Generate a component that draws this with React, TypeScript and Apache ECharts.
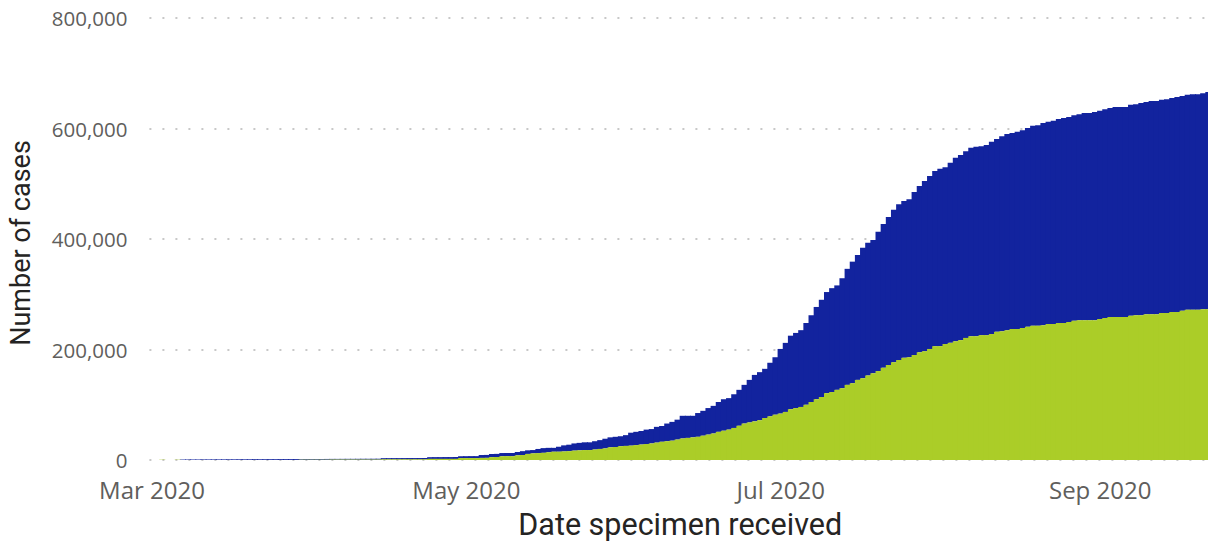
import React, { useEffect, useRef } from "react";
import * as echarts from "echarts";

// Daily dates: 1 Mar 2020 .. 22 Sep 2020
const startDay = "2020-03-01";
const dayCount = 206;
const monthNames = ["Jan", "Feb", "Mar", "Apr", "May", "Jun", "Jul", "Aug", "Sep", "Oct", "Nov", "Dec"];
const labelledMonths = [2, 4, 6, 8]; // Mar, May, Jul, Sep
const yTicks = [0, 200000, 400000, 600000, 800000];

// cumulative total cases (stack top)
const totalCases = [
  0, 0, 500, 0, 0, 500,
  800, 850, 900, 900, 950, 1000, 1000, 1050, 1100, 1100, 1150, 1200, 1200, 1250, 1300, 1300, 1350, 1400, 1400, 1450, 1500, 1500, 1550,
  1700, 1750, 1800, 1800, 1850, 1900,
  2000, 2000, 2050, 2100, 2100, 2150, 2200, 2200, 2250, 2300,
  3300, 3350, 3400, 3400, 3450, 3500, 3500, 3550, 3600,
  5100, 5200, 5200, 5300, 5300, 5400,
  6800, 6900, 7000, 7000,
  9000, 9200,
  10900, 11100,
  12600, 12700, 12800,
  14500, 16000, 17500, 18000, 20000, 21500, 22000, 22000, 24000, 26500,
  27700, 30000, 31000, 32000, 32000, 34000, 36000, 38500, 41000, 42000,
  43000, 45000, 49400, 51000, 52500, 55000, 56000, 60000, 61500, 66000,
  69000, 73000, 80000, 80000, 80000, 85000, 89000, 94000, 98000, 105000,
  110000, 112000, 119000, 127000, 136000, 145000, 154000, 159000, 165000, 176000,
  186000, 201000,
  212000, 225000, 230000, 235000, 248000, 262000, 277000, 290000, 304000, 311000, 316000, 329000, 346000, 359000,
  371000, 384000, 393000, 398000, 413000, 427000, 440000, 453000, 463000, 469000,
  472000, 485000, 496000, 505000, 514000, 523000, 527000, 530000, 538000, 547000,
  552000, 559000, 565000, 567000, 568000, 570000, 576000, 581000, 586000, 590000,
  592000, 594000, 597000, 601000, 605000, 606000, 610000, 612000, 614000, 617000,
  619000, 621000, 624000, 626000, 628000, 628000, 630000, 632000, 635000, 637000,
  639000, 639000, 639000, 643000, 644000, 646000, 648000, 650000, 650000, 652000,
  653000, 655000, 657000, 659000, 661000, 662000, 662000, 664000, 666000,
];

// cumulative green (lower) segment
const greenCases = [
  0, 0, 500, 0, 0, 500,
  0, 0, 0, 0, 0, 0, 0, 0, 0, 0, 0, 0, 0, 0, 0, 0, 0, 0, 0, 0, 0, 0, 0,
  500, 500, 500, 500, 500, 500,
  700, 700, 700, 700, 700, 700, 700, 700, 700, 700,
  1100, 1100, 1100, 1100, 1100, 1100, 1100, 1100, 1100,
  2000, 2000, 2000, 2000, 2000, 2000,
  3500, 3500, 3500, 3500,
  3800, 3900,
  5200, 5400,
  6800, 7000, 7000,
  8500, 9000, 11000, 12000, 12500, 13000, 14000, 15000, 15000, 15500,
  16000, 17000, 17500, 18000, 18000, 19000, 20000, 21000, 23000, 23500,
  25000, 25500, 26000, 27000, 28000, 29000, 30000, 31500, 33000, 34000,
  35000, 37000, 39000, 40000, 41000, 42000, 44000, 46000, 48000, 51000,
  53000, 55000, 58000, 62000, 66000, 68000, 70000, 72000, 76000, 79000,
  82000, 84000,
  87000, 92000, 94000, 96000, 100000, 105000, 110000, 114000, 121000, 123000, 127000, 130000, 136000, 139000,
  145000, 148000, 153000, 157000, 161000, 167000, 172000, 177000, 181000, 185000,
  186000, 190000, 195000, 197000, 201000, 206000, 206000, 210000, 212000, 215000,
  217000, 221000, 224000, 224000, 226000, 226000, 228000, 232000, 233000, 235000,
  237000, 237000, 239000, 241000, 243000, 243000, 244000, 246000, 246000, 248000,
  248000, 250000, 252000, 253000, 253000, 253000, 253000, 255000, 257000, 259000,
  259000, 259000, 259000, 261000, 262000, 262000, 264000, 264000, 264000, 266000,
  266000, 268000, 268000, 270000, 272000, 272000, 272000, 273000, 273000,
];

const blueColor = "#12239E";
const greenColor = "#ABCD28";

function buildDates(): string[] {
  const out: string[] = [];
  const base = new Date(startDay + "T00:00:00Z").getTime();
  for (let i = 0; i < dayCount; i++) {
    const d = new Date(base + i * 86400000);
    out.push(d.toISOString().slice(0, 10));
  }
  return out;
}

export default function App() {
  const ref = useRef<HTMLDivElement>(null);
  useEffect(() => {
    if (!ref.current) return;
    const chart = echarts.init(ref.current, undefined, { renderer: "svg" });
    const dates = buildDates();
    const blueSegment = totalCases.map((t, i) => Math.max(0, t - greenCases[i]));
    const isLabelDay = (v: string) => {
      const m = parseInt(v.slice(5, 7), 10) - 1;
      return v.slice(8, 10) === "01" && labelledMonths.indexOf(m) >= 0;
    };
    chart.setOption({
      animation: false,
      grid: {
        left: 149.4,
        right: -3,
        top: 18,
        bottom: 82,
        containLabel: false,
        outerBoundsMode: "none",
      },
      xAxis: {
        type: "category",
        data: dates,
        boundaryGap: true,
        name: "Date specimen received",
        nameLocation: "middle",
        nameGap: 49,
        nameTextStyle: {
          fontFamily: "Roboto",
          fontSize: 30.5,
          lineHeight: 30,
          color: "#252423",
          fontWeight: 400,
        },
        axisLine: { show: false },
        axisTick: { show: false },
        axisLabel: {
          interval: (_i: number, v: string) => isLabelDay(v),
          formatter: (v: string) => {
            const m = parseInt(v.slice(5, 7), 10) - 1;
            return monthNames[m] + " " + v.slice(0, 4);
          },
          fontFamily: "Open Sans",
          fontSize: 24,
          lineHeight: 26,
          color: "#605E5C",
          margin: 16,
        },
        splitLine: { show: false },
      },
      yAxis: {
        type: "value",
        min: yTicks[0],
        max: yTicks[yTicks.length - 1],
        interval: yTicks[1] - yTicks[0],
        name: "Number of cases",
        nameLocation: "middle",
        nameGap: 115,
        nameTextStyle: {
          fontFamily: "Roboto",
          fontSize: 27,
          color: "#252423",
          fontWeight: 400,
          padding: [0, 8, 0, 0],
        },
        axisLine: { show: false },
        axisTick: { show: false },
        axisLabel: {
          formatter: (v: number) => v.toLocaleString("en-US"),
          fontFamily: "Open Sans",
          fontSize: 20.5,
          lineHeight: 16,
          color: "#605E5C",
          margin: 22,
        },
        splitLine: { show: true, lineStyle: { type: [2, 11], width: 2, color: "#C8C8C8" } },
      },
      series: [
        {
          name: "Green",
          type: "bar",
          stack: "cases",
          data: greenCases,
          barWidth: 6.2,
          z: 3,
          itemStyle: { color: greenColor },
        },
        {
          name: "Blue",
          type: "bar",
          stack: "cases",
          data: blueSegment,
          barWidth: 6.2,
          z: 2,
          itemStyle: { color: blueColor },
        },
      ],
    });
    return () => chart.dispose();
  }, []);
  return (
    <div
      ref={ref}
      style={{ position: "absolute", left: 0, top: 0, width: 1208, height: 542 }}
    />
  );
}
